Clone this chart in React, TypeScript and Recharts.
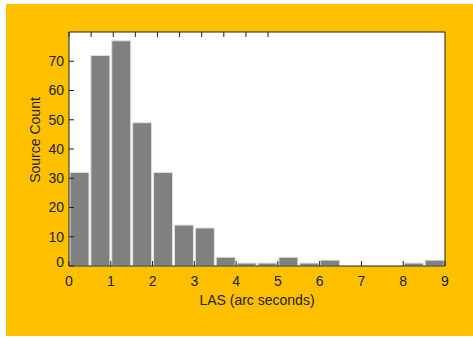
import React from "react";
import { ComposedChart, Bar, XAxis, YAxis } from "recharts";

// histogram of largest angular size, bins of 0.5 arcsec
const binCenters = [0.25, 0.75, 1.25, 1.75, 2.25, 2.75, 3.25, 3.75, 4.25, 4.75, 5.25, 5.75, 6.25, 6.75, 7.25, 7.75, 8.25, 8.75];
const counts = [32, 72, 77, 49, 32, 14, 13, 3, 1, 1, 3, 1, 2, 0, 0, 0, 1, 2];
const xTicks = [0, 1, 2, 3, 4, 5, 6, 7, 8, 9];
const yTicks = [0, 10, 20, 30, 40, 50, 60, 70];

const data = binCenters.map((x, i) => ({ x, count: counts[i] }));

const FONT = "'Liberation Sans', Arial, Helvetica, sans-serif";
const INK = "#222";

function LeftTick(props: any) {
  const { x, y, payload } = props;
  // the 0 label sits a little above the axis in the original
  const dy = payload.value === 0 ? -4 : 0;
  return (
    <text x={x} y={y + dy} dy="0.35em" textAnchor="end" fontSize={14} fontFamily={FONT} fill={INK}>
      {payload.value}
    </text>
  );
}

export default function App() {
  return (
    <div style={{ position: "absolute", left: 0, top: 0, width: 473, height: 338, background: "#fff" }}>
      <div style={{ position: "absolute", left: 6, top: 4, width: 467, height: 332, background: "#FFC000" }} />
      <div style={{ position: "absolute", left: 0, top: 0 }}>
        <ComposedChart
          width={473}
          height={338}
          data={data}
          margin={{ top: 22, right: 18, left: 29, bottom: 32 }}
        >
          <rect x={69} y={32} width={376} height={234} fill="#fff" />
          <XAxis
            dataKey="x"
            type="number"
            domain={[0, 9]}
            ticks={xTicks}
            height={40}
            tickSize={-5}
            tickMargin={15}
            interval={0}
            stroke={INK}
            tick={{ fontSize: 14, fontFamily: FONT, fill: INK }}
            label={{
              content: () => (
                <text x={257} y={305} textAnchor="middle" fontSize={14} fontFamily={FONT} fill={INK}>
                  LAS (arc seconds)
                </text>
              ),
            }}
          />
          <XAxis
            xAxisId="top"
            orientation="top"
            type="number"
            domain={[0, 9]}
            ticks={xTicks}
            height={10}
            tickSize={-5}
            interval={0}
            stroke={INK}
            tickFormatter={() => ""}
          />
          <YAxis
            type="number"
            domain={[0, 80]}
            ticks={yTicks}
            width={40}
            tickSize={-5}
            tickMargin={10}
            interval={0}
            stroke={INK}
            tick={<LeftTick />}
            label={{
              content: () => (
                <text
                  x={40}
                  y={140}
                  transform="rotate(-90 40 140)"
                  textAnchor="middle"
                  fontSize={14}
                  fontFamily={FONT}
                  fill={INK}
                >
                  Source Count
                </text>
              ),
            }}
          />
          <YAxis
            yAxisId="right"
            orientation="right"
            type="number"
            domain={[0, 80]}
            ticks={yTicks}
            width={10}
            tickSize={-5}
            interval={0}
            stroke={INK}
            tickFormatter={() => ""}
          />
          <Bar dataKey="count" fill="#808080" stroke="#e2e2e2" strokeWidth={1} barSize={19} isAnimationActive={false} />
        </ComposedChart>
      </div>
    </div>
  );
}
